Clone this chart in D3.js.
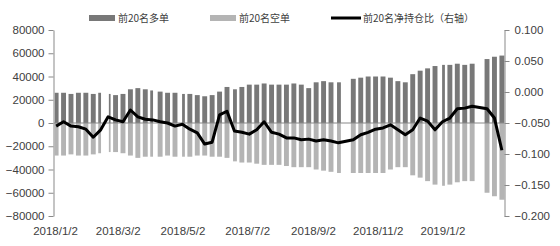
<!DOCTYPE html>
<html>
<head>
<meta charset="utf-8">
<script src="https://cdn.jsdelivr.net/npm/d3@7"></script>
<style>
  body { margin: 0; background: #fff; }
  svg { display: block; }
  text { font-family: "Liberation Sans", Arial, sans-serif; fill: #404040; }
  .legend text { font-family: "Noto Sans CJK SC", sans-serif; font-size: 10px; }
  .axis path, .axis line { stroke: #898989; }
</style>
</head>
<body>
<div class="container"></div>
<script>
// weekly blocks (Monday of each trading week, national holiday weeks left out)
const weeks = [
  '2018-01-01', '2018-01-08', '2018-01-15', '2018-01-22', '2018-01-29', '2018-02-05', '2018-02-12',
  '2018-02-19', '2018-02-26', '2018-03-05', '2018-03-12', '2018-03-19', '2018-03-26', '2018-04-02',
  '2018-04-09', '2018-04-16', '2018-04-23', '2018-04-30', '2018-05-07', '2018-05-14', '2018-05-21',
  '2018-05-28', '2018-06-04', '2018-06-11', '2018-06-18', '2018-06-25', '2018-07-02', '2018-07-09',
  '2018-07-16', '2018-07-23', '2018-07-30', '2018-08-06', '2018-08-13', '2018-08-20', '2018-08-27',
  '2018-09-03', '2018-09-10', '2018-09-17', '2018-09-24', '2018-10-08', '2018-10-15', '2018-10-22',
  '2018-10-29', '2018-11-05', '2018-11-12', '2018-11-19', '2018-11-26', '2018-12-03', '2018-12-10',
  '2018-12-17', '2018-12-24', '2018-12-31', '2019-01-07', '2019-01-14', '2019-01-21', '2019-01-28',
  '2019-02-11', '2019-02-18', '2019-02-25'
]

// weekdays with no trading inside the weeks above
const closedDays = [
  '2018-01-01', '2018-02-15', '2018-02-16', '2018-02-19', '2018-02-20', '2018-02-21', '2018-04-05',
  '2018-04-06', '2018-04-30', '2018-05-01', '2018-06-18', '2018-09-24', '2018-12-31', '2019-01-01'
]

// top 20 long positions (lots)
const longs = [
  26000, 26000, 25000, 26000, 26000, 25000, 26000, 25000, 24000, 25000, 29000, 30000, 29000, 28000,
  27000, 26000, 26000, 25000, 25000, 24000, 23000, 24000, 27000, 31000, 29000, 31000, 33000, 33000,
  34000, 33000, 33000, 33000, 34000, 33000, 30000, 35000, 36000, 35000, 35000, 38000, 39000, 40000,
  40000, 40000, 39000, 36000, 35000, 42000, 45000, 47000, 49000, 50000, 50000, 51000, 50000, 51000,
  55000, 57000, 58000
]

// top 20 short positions (lots, negative)
const shorts = [
  -28000, -28000, -27000, -28000, -28000, -27000, -26000, -25000, -25000, -26000, -28000, -30000, -29000, -29000,
  -29000, -28000, -29000, -29000, -29000, -28000, -28000, -29000, -29000, -30000, -33000, -34000, -34000, -35000,
  -36000, -36000, -36000, -37000, -38000, -38000, -38000, -40000, -41000, -42000, -43000, -43000, -43000, -43000,
  -43000, -43000, -40000, -38000, -38000, -45000, -47000, -50000, -53000, -54000, -53000, -51000, -50000, -50000,
  -60000, -63000, -66000
]

// net position ratio (right axis)
const ratio = [
  -0.055, -0.048, -0.055, -0.056, -0.060, -0.073, -0.061, -0.040, -0.045, -0.048, -0.029, -0.040, -0.044, -0.045,
  -0.048, -0.050, -0.055, -0.052, -0.060, -0.066, -0.084, -0.081, -0.037, -0.031, -0.063, -0.065, -0.068, -0.061,
  -0.048, -0.065, -0.068, -0.074, -0.074, -0.077, -0.076, -0.079, -0.077, -0.079, -0.082, -0.077, -0.069, -0.065,
  -0.060, -0.058, -0.053, -0.061, -0.069, -0.061, -0.042, -0.047, -0.061, -0.048, -0.042, -0.027, -0.026, -0.023,
  -0.027, -0.042, -0.094
]

const leftTicks = [80000, 60000, 40000, 20000, 0, -20000, -40000, -60000, -80000]
const rightTicks = [0.1, 0.05, 0, -0.05, -0.1, -0.15, -0.2]
const dateTicks = ['2018-01-02', '2018-03-02', '2018-05-02', '2018-07-02', '2018-09-02', '2018-11-02', '2019-01-02']
const legendItems = ['前20名多单', '前20名空单', '前20名净持仓比（右轴）']

var parse = d3.timeParse('%Y-%m-%d')
var fmt = d3.timeFormat('%Y-%m-%d')
var margin = { left: 54, right: 56, top: 30, bottom: 30 }
var width = 560
var height = 246

var svg = d3.select('.container')
            .append('svg')
            .attr('width', width)
            .attr('height', height)

var xScale = d3.scaleTime()
               .domain([new Date(2018, 0, 1, 12), new Date(2019, 2, 1, 12)])
               .range([margin.left, width - margin.right])

var yLeft = d3.scaleLinear()
              .domain([-80000, 80000])
              .range([height - margin.bottom, margin.top])

var yRight = d3.scaleLinear()
               .domain([-0.2, 0.1])
               .range([height - margin.bottom, margin.top])

var data = weeks.map(function (w, i) {
  return { mon: parse(w), long: longs[i], short: shorts[i], ratio: ratio[i] }
})

// split every week into runs of consecutive open days
var runs = []
data.forEach(function (d) {
  var start = null
  for (var k = 0; k <= 5; k++) {
    var day = d3.timeDay.offset(d.mon, k)
    var open = k < 5 && closedDays.indexOf(fmt(day)) < 0
    if (open && start === null) start = day
    if (!open && start !== null) {
      runs.push({ from: start, to: day, long: d.long, short: d.short })
      start = null
    }
  }
})

function rx (d) { return xScale(d.from) + 0.2 }
function rw (d) { return xScale(d.to) - xScale(d.from) - 0.4 }

// bars
svg.append('g')
   .selectAll('rect')
   .data(runs)
   .enter()
   .append('rect')
   .attr('x', rx)
   .attr('width', rw)
   .attr('y', function (d) { return yLeft(d.long) })
   .attr('height', function (d) { return yLeft(0) - yLeft(d.long) })
   .attr('fill', '#787878')

svg.append('g')
   .selectAll('rect')
   .data(runs)
   .enter()
   .append('rect')
   .attr('x', rx)
   .attr('width', rw)
   .attr('y', yLeft(0))
   .attr('height', function (d) { return yLeft(d.short) - yLeft(0) })
   .attr('fill', '#b4b4b4')

// zero line (category axis)
svg.append('line')
   .attr('x1', xScale.range()[0])
   .attr('x2', xScale.range()[1])
   .attr('y1', yLeft(0))
   .attr('y2', yLeft(0))
   .attr('stroke', '#898989')

function styleText (sel) {
  sel.selectAll('text')
     .style('font-size', '11.5px')
     .style('font-family', '"Liberation Sans", Arial, sans-serif')
     .attr('fill', '#404040')
}

// axes
svg.append('g')
   .attr('class', 'axis')
   .attr('transform', 'translate(' + (margin.left - 0.5) + ',0)')
   .call(d3.axisLeft(yLeft).tickValues(leftTicks).tickSize(5).tickSizeOuter(0).tickPadding(4).tickFormat(d3.format('d')))
   .call(styleText)

svg.append('g')
   .attr('class', 'axis')
   .attr('transform', 'translate(' + (width - margin.right + 0.5) + ',0)')
   .call(d3.axisRight(yRight).tickValues(rightTicks).tickSize(5).tickSizeOuter(0).tickPadding(5).tickFormat(d3.format('.3f')))
   .call(styleText)

var xAxis = svg.append('g')
               .attr('class', 'axis')
               .attr('transform', 'translate(0,' + (height - margin.bottom + 8) + ')')
               .call(d3.axisBottom(xScale)
                       .tickValues(dateTicks.map(function (d) { return d3.timeHour.offset(parse(d), 12) }))
                       .tickSize(0)
                       .tickFormat(d3.timeFormat('%Y/%-m/%-d')))
               .call(styleText)
xAxis.select('.domain').remove()

// net ratio line
var valueline = d3.line()
                  .x(function (d) { return xScale(d3.timeHour.offset(d.mon, 60)) })
                  .y(function (d) { return yRight(d.ratio) })

svg.append('path')
   .datum(data)
   .attr('d', valueline)
   .attr('fill', 'none')
   .attr('stroke', '#000')
   .attr('stroke-width', 3)
   .attr('stroke-linejoin', 'round')

// legend
var legend = svg.append('g').attr('class', 'legend')
var legendX = [89, 210, 331]

legendItems.forEach(function (name, i) {
  var g = legend.append('g').attr('transform', 'translate(' + legendX[i] + ',18)')
  if (i < 2) {
    g.append('rect')
     .attr('x', 0)
     .attr('y', -3)
     .attr('width', 26)
     .attr('height', 6)
     .attr('fill', i === 0 ? '#787878' : '#b4b4b4')
  } else {
    g.append('line')
     .attr('x1', 0)
     .attr('x2', 30)
     .attr('stroke', '#000')
     .attr('stroke-width', 3)
  }
  g.append('text')
   .attr('x', i < 2 ? 29 : 32)
   .attr('dy', '0.35em')
   .text(name)
})
</script>
</body>
</html>
